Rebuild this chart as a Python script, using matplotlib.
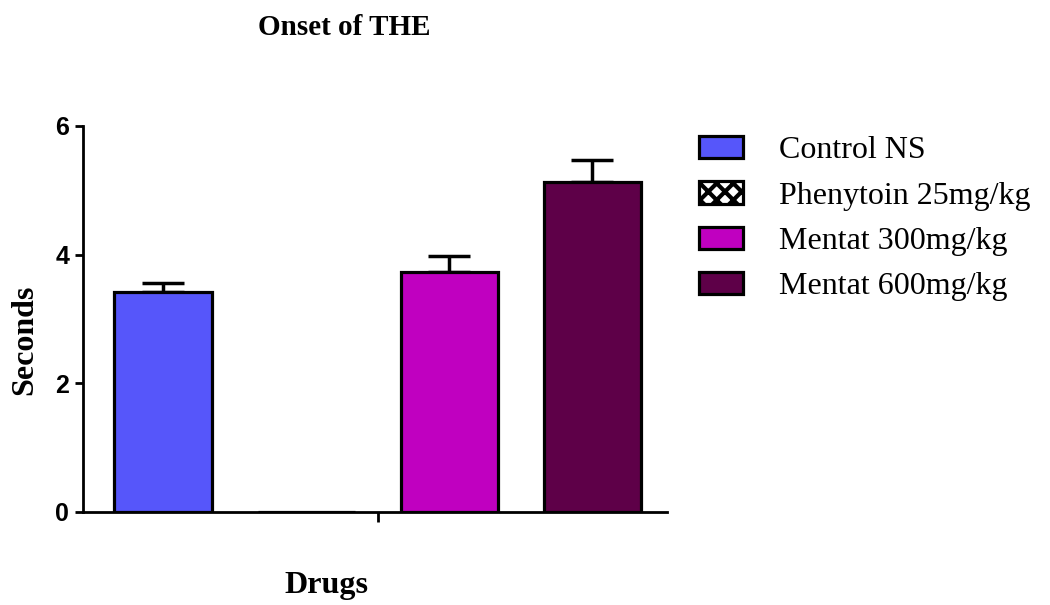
import numpy as np
import matplotlib.pyplot as plt

groups = ["Control NS", "Phenytoin 25mg/kg", "Mentat 300mg/kg", "Mentat 600mg/kg"]
means = [3.42, 0.0, 3.73, 5.12]
sems = [0.14, 0.0, 0.24, 0.35]
colors = ["#5656FA", "white", "#C000C0", "#5E0048"]
hatches = [None, "xx", None, None]

plt.rcParams["hatch.linewidth"] = 3

fig = plt.figure(figsize=(10.5, 6.05), dpi=100)
ax = fig.add_axes([0.079, 0.154, 0.556, 0.638])

x = np.arange(len(groups))
bars = ax.bar(x, means, width=0.68, color=colors, edgecolor="black",
              linewidth=2.3, label=groups, zorder=2)
for b, h in zip(bars, hatches):
    if h:
        b.set_hatch(h)

shown = [i for i, m in enumerate(means) if m > 0]
ax.errorbar(x[shown], np.array(means)[shown],
            yerr=[np.zeros(len(shown)), np.array(sems)[shown]],
            fmt="none", ecolor="black", elinewidth=2.5, capsize=15,
            capthick=2.5, zorder=1)

ax.set_xlim(-0.56, 3.52)
ax.set_ylim(0, 6)
ax.set_yticks([0, 2, 4, 6])
ax.set_xticks([1.5])
ax.set_xticklabels([""])
ax.spines["top"].set_visible(False)
ax.spines["right"].set_visible(False)
for s in ("left", "bottom"):
    ax.spines[s].set_linewidth(2)
ax.tick_params(axis="y", width=2, length=6, pad=4)
ax.tick_params(axis="x", width=2, length=7)
for lab in ax.get_yticklabels():
    lab.set_family("Liberation Sans")
    lab.set_fontweight("bold")
    lab.set_fontsize(18)

fig.text(0.024, 0.438, "Seconds", family="Liberation Serif", fontweight="bold",
         fontsize=23, rotation=90, ha="center", va="center")
fig.text(0.311, 0.033, "Drugs", family="Liberation Serif", fontweight="bold",
         fontsize=23, ha="center", va="center")
fig.text(0.328, 0.955, "Onset of THE", family="Liberation Serif",
         fontweight="bold", fontsize=21, ha="center", va="center")

fig.legend(handles=list(bars), labels=groups, loc="upper left",
           bbox_to_anchor=(0.66, 0.786), frameon=False,
           prop={"family": "Liberation Serif", "size": 23},
           handlelength=1.35, handleheight=0.7, handletextpad=1.15,
           labelspacing=0.5, borderpad=0.2, borderaxespad=0)

fig.savefig("out.png", dpi=100)
